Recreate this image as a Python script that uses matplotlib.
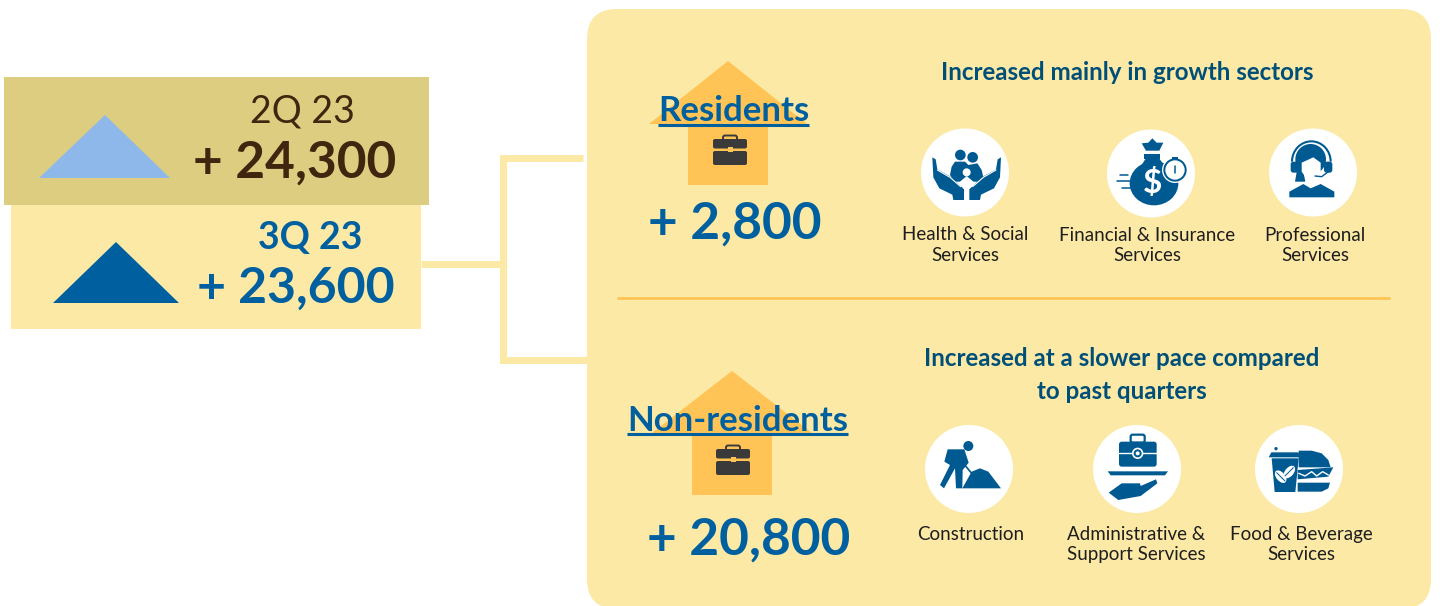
import matplotlib
matplotlib.use('Agg')
import matplotlib.pyplot as plt
from matplotlib.patches import Polygon, Circle, Rectangle, FancyBboxPatch, Ellipse, Arc

plt.rcParams['font.family'] = ['Lato', 'DejaVu Sans']

# Textos y valores
quarters = ['2Q 23', '3Q 23']
quarter_values = ['+ 24,300', '+ 23,600']
groups = ['Residents', 'Non-residents']
group_values = ['+ 2,800', '+ 20,800']
headline_res = 'Increased mainly in growth sectors'
headline_non = 'Increased at a slower pace compared\nto past quarters'
sectors_res = ['Health & Social\nServices', 'Financial & Insurance\nServices', 'Professional\nServices']
sectors_non = ['Construction', 'Administrative &\nSupport Services', 'Food & Beverage\nServices']

# Colores
cream = '#FBE9A5'
khaki = '#DCCD80'
orange = '#FFC455'
blue = '#00609F'
icon_blue = '#005A92'
head_blue = '#004F78'
brown = '#40260F'
black = '#1E1E1E'

fig = plt.figure(figsize=(14.4, 6.06), dpi=100)
ax = fig.add_axes([0, 0, 1, 1])
ax.set_xlim(0, 1440)
ax.set_ylim(606, 0)
ax.axis('off')


def add_poly(pts, color, z=5):
    ax.add_patch(Polygon(pts, closed=True, fc=color, ec='none', zorder=z))


def zoomed(origin, pts):
    # pasar de coordenadas del recorte (3x) a pixeles de la figura
    return [(origin[0] + x / 3, origin[1] + y / 3) for x, y in pts]


def shape(origin, pts, color=icon_blue, z=6):
    add_poly(zoomed(origin, pts), color, z)


def disc(origin, x, y, r, color=icon_blue, z=6):
    ax.add_patch(Circle((origin[0] + x / 3, origin[1] + y / 3), r / 3, fc=color, ec='none', zorder=z))


def rounded(origin, x0, y0, x1, y1, rad, color=icon_blue, z=6):
    ax.add_patch(FancyBboxPatch((origin[0] + (x0 + rad) / 3, origin[1] + (y0 + rad) / 3),
                                (x1 - x0 - 2 * rad) / 3, (y1 - y0 - 2 * rad) / 3,
                                boxstyle='round,pad=%f' % (rad / 3), fc=color, ec='none', zorder=z))


def stroke(origin, pts, width, color=icon_blue, z=6):
    p = zoomed(origin, pts)
    ax.plot([a for a, b in p], [b for a, b in p], color=color, lw=width, zorder=z, solid_capstyle='round')


def oval(origin, x, y, w, h, angle=0, color=icon_blue, z=6):
    ax.add_patch(Ellipse((origin[0] + x / 3, origin[1] + y / 3), w / 3, h / 3, angle=angle,
                         fc=color, ec='none', zorder=z))


def house(apex_x, apex_y, wing_y, half, stem_l, stem_r, bottom):
    add_poly([(apex_x, apex_y), (apex_x + half, wing_y), (stem_r, wing_y), (stem_r, bottom),
              (stem_l, bottom), (stem_l, wing_y), (apex_x - half, wing_y)], orange, 2)


def case(cx, cy):
    # maletin del interior de la casa
    dark = '#3A3A3A'
    ax.add_patch(FancyBboxPatch((cx - 7, cy - 14.5), 14, 6, boxstyle='round,pad=0,rounding_size=2',
                                fc='none', ec=dark, lw=1.4, zorder=3))
    ax.add_patch(FancyBboxPatch((cx - 17, cy - 11), 34, 9.5, boxstyle='round,pad=0,rounding_size=2',
                                fc=dark, ec='none', zorder=4))
    ax.add_patch(FancyBboxPatch((cx - 17, cy + 1), 34, 14, boxstyle='round,pad=0,rounding_size=2',
                                fc=dark, ec='none', zorder=4))
    ax.add_patch(Rectangle((cx - 2.5, cy - 3), 5, 4.5, fc=orange, ec='none', zorder=5))


# Cajas de la izquierda
ax.add_patch(Rectangle((4, 77), 425, 128, fc=khaki, ec='none', zorder=1))
ax.add_patch(Rectangle((11, 205), 410, 124, fc=cream, ec='none', zorder=1))
add_poly([(39, 178), (105, 115), (170, 178)], '#8FB8EA', 2)
add_poly([(53, 303), (116, 242), (179, 303)], blue, 2)
ax.text(302, 111, quarters[0], ha='center', va='center', fontsize=27, color=brown)
ax.text(295, 163, quarter_values[0], ha='center', va='center', fontsize=37, fontweight='bold', color=brown)
ax.text(310, 238, quarters[1], ha='center', va='center', fontsize=27, fontweight='bold', color=blue)
ax.text(296, 288, quarter_values[1], ha='center', va='center', fontsize=36, fontweight='bold', color=blue)

# Conector
ax.plot([421, 503], [264, 264], color=cream, lw=5, zorder=1, solid_capstyle='butt')
ax.plot([583, 503, 503, 590], [158, 158, 360, 360], color=cream, lw=5, zorder=1,
        solid_joinstyle='miter', solid_capstyle='butt')

# Panel derecho
ax.add_patch(FancyBboxPatch((587 + 30, 9 + 30), 844 - 60, 600 - 60, boxstyle='round,pad=30',
                            fc=cream, ec='none', zorder=1))
ax.plot([617, 1390], [297.5, 297.5], color=orange, lw=2, zorder=2, solid_capstyle='butt')

# Casas
house(728, 61, 124, 79, 688, 768, 185)
house(732, 371, 433, 80, 692, 772, 495)
case(730, 150)
case(733, 460)
ax.text(733.5, 111, groups[0], ha='center', va='center', fontsize=25, fontweight='bold', color=blue, zorder=7)
ax.plot([658, 809], [124.5, 124.5], color=blue, lw=2.2, zorder=7, solid_capstyle='butt')
ax.text(737.5, 421, groups[1], ha='center', va='center', fontsize=25, fontweight='bold', color=blue, zorder=7)
ax.plot([627, 848], [433.5, 433.5], color=blue, lw=2.2, zorder=7, solid_capstyle='butt')
ax.text(735, 224, group_values[0], ha='center', va='center', fontsize=37, fontweight='bold', color=blue)
ax.text(749, 540, group_values[1], ha='center', va='center', fontsize=37, fontweight='bold', color=blue)

# Titulares
ax.text(1127, 73, headline_res, ha='center', va='center', fontsize=17.4, fontweight='bold', color=head_blue)
ax.text(1122, 375, headline_non, ha='center', va='center', fontsize=17.4, fontweight='bold', color=head_blue,
        linespacing=1.5)

# Circulos de iconos y etiquetas
circle_res = [(965, 172.5), (1151, 173.5), (1313, 172.5)]
circle_non = [(969, 469), (1137, 469), (1299, 469)]
label_res = [(965.5, 245), (1147, 245.5), (1315, 245.5)]
label_non = [(971, 534.5), (1136, 544.5), (1301, 544.5)]
for c in circle_res + circle_non:
    ax.add_patch(Circle(c, 44, fc='white', ec='none', zorder=3))
for pos, t in zip(label_res, sectors_res):
    ax.text(pos[0], pos[1], t, ha='center', va='center', fontsize=13.5, color=black, linespacing=1.25)
for pos, t in zip(label_non, sectors_non):
    ax.text(pos[0], pos[1], t, ha='center', va='center', fontsize=13.5, color=black, linespacing=1.25)

o1 = (900, 120)
o2 = (900, 420)

# Salud: familia entre manos
disc(o1, 181, 105, 16)
disc(o1, 218, 112, 16)
shape(o1, [(165, 125), (195, 125), (205, 135), (232, 130), (245, 150), (250, 172), (235, 185), (165, 185), (150, 165), (155, 140)])
disc(o1, 200, 157, 12, 'white', 7)
shape(o1, [(180, 185), (200, 168), (220, 185), (205, 240), (195, 240)], 'white', 7)
hand_l = [(97, 112), (107, 118), (112, 148), (155, 172), (192, 208), (192, 240), (160, 240), (157, 224), (118, 205), (100, 172)]
hand_r = [(400 - x, y) for x, y in hand_l]
shape(o1, hand_l, z=9)
shape(o1, hand_r, z=9)
stroke(o1, [(112, 150), (150, 172), (182, 200)], 0.8, 'white', 10)
stroke(o1, [(288, 150), (250, 172), (218, 200)], 0.8, 'white', 10)

# Finanzas: bolsa y cronometro
shape(o1, [(725, 70), (745, 68), (757, 55), (770, 68), (790, 68), (778, 92), (738, 92)])
shape(o1, [(733, 103), (780, 103), (780, 116), (733, 116)])
oval(o1, 762, 190, 146, 132)
shape(o1, [(737, 116), (778, 116), (815, 165), (705, 165)])
ax.text(900 + 757 / 3, 120 + 190 / 3, '$', ha='center', va='center', fontsize=24, fontweight='bold', color='white', zorder=7)
disc(o1, 825, 150, 39, 'white', 7)
disc(o1, 825, 150, 35, icon_blue, 8)
disc(o1, 825, 150, 29, 'white', 9)
shape(o1, [(815, 111), (835, 111), (835, 118), (815, 118)], z=8)
stroke(o1, [(825, 137), (825, 158)], 1.1, icon_blue, 10)
stroke(o1, [(650, 184), (700, 184)], 1.1)
stroke(o1, [(660, 165), (685, 165)], 1.1)
stroke(o1, [(665, 204), (700, 204)], 1.1)

# Profesionales: operadora con auriculares
o = o1
disc(o, 1232, 118, 46)
shape(o, [(1192, 145), (1207, 140), (1216, 185), (1185, 185)])
shape(o, [(1205, 128), (1240, 112), (1262, 128), (1262, 155), (1242, 182), (1242, 195), (1225, 195), (1225, 182), (1205, 155)], 'white', 7)
ax.add_patch(Arc((900 + 1234 / 3, 120 + 125 / 3), 116 / 3, 122 / 3, theta1=180, theta2=360, color=icon_blue, lw=1.5, zorder=9))
rounded(o, 1172, 125, 1196, 158, 8, icon_blue, 9)
rounded(o, 1272, 125, 1297, 158, 8, icon_blue, 9)
stroke(o, [(1285, 155), (1265, 170), (1245, 168)], 1, icon_blue, 9)
shape(o, [(1168, 232), (1168, 215), (1210, 192), (1232, 205), (1262, 192), (1303, 215), (1303, 232)])

# Construccion
disc(o2, 205, 78, 15)
shape(o2, [(143, 88), (193, 88), (206, 128), (188, 150), (187, 205), (168, 205), (165, 145), (132, 205), (120, 195), (150, 135), (133, 125)])
stroke(o2, [(190, 130), (215, 160)], 1.2)
shape(o2, [(187, 205), (215, 155), (240, 145), (265, 155), (303, 205)])

# Administrativo: maletin sobre bandeja y mano
rounded(o2, 657, 65, 770, 140, 8)
ax.add_patch(FancyBboxPatch((900 + 692 / 3, 420 + 44 / 3), 42 / 3, 24 / 3, boxstyle='round,pad=0,rounding_size=2',
                            fc='none', ec=icon_blue, lw=1.6, zorder=6))
stroke(o2, [(657, 100), (770, 100)], 1, 'white', 7)
disc(o2, 713, 100, 17, 'white', 8)
disc(o2, 713, 100, 12, icon_blue, 9)
disc(o2, 713, 100, 6, 'white', 10)
shape(o2, [(623, 154), (804, 154), (795, 166), (632, 166)])
shape(o2, [(626, 218), (665, 190), (720, 190), (722, 198), (768, 178), (772, 190), (722, 228), (655, 240)])

# Comida: vaso y hamburguesa
shape(o2, [(1114, 97), (1195, 97), (1203, 112), (1106, 112)])
disc(o2, 1128, 86, 5)
shape(o2, [(1115, 115), (1196, 115), (1186, 216), (1124, 216)])
oval(o2, 1142, 170, 26, 44, -40, 'white', 7)
oval(o2, 1168, 156, 26, 44, 40, 'white', 7)
stroke(o2, [(1130, 158), (1155, 183)], 0.7, icon_blue, 8)
stroke(o2, [(1180, 143), (1155, 168)], 0.7, icon_blue, 8)
shape(o2, [(1196, 92), (1235, 92), (1265, 100), (1285, 120), (1292, 142), (1196, 142)])
shape(o2, [(1193, 150), (1300, 142), (1285, 170), (1193, 178)])
stroke(o2, [(1196, 160), (1215, 168), (1235, 155), (1250, 168), (1268, 155), (1285, 165)], 1, 'white', 7)
shape(o2, [(1193, 188), (1290, 188), (1285, 205), (1265, 215), (1193, 215)])

fig.savefig('out.png', dpi=100, facecolor='white')
